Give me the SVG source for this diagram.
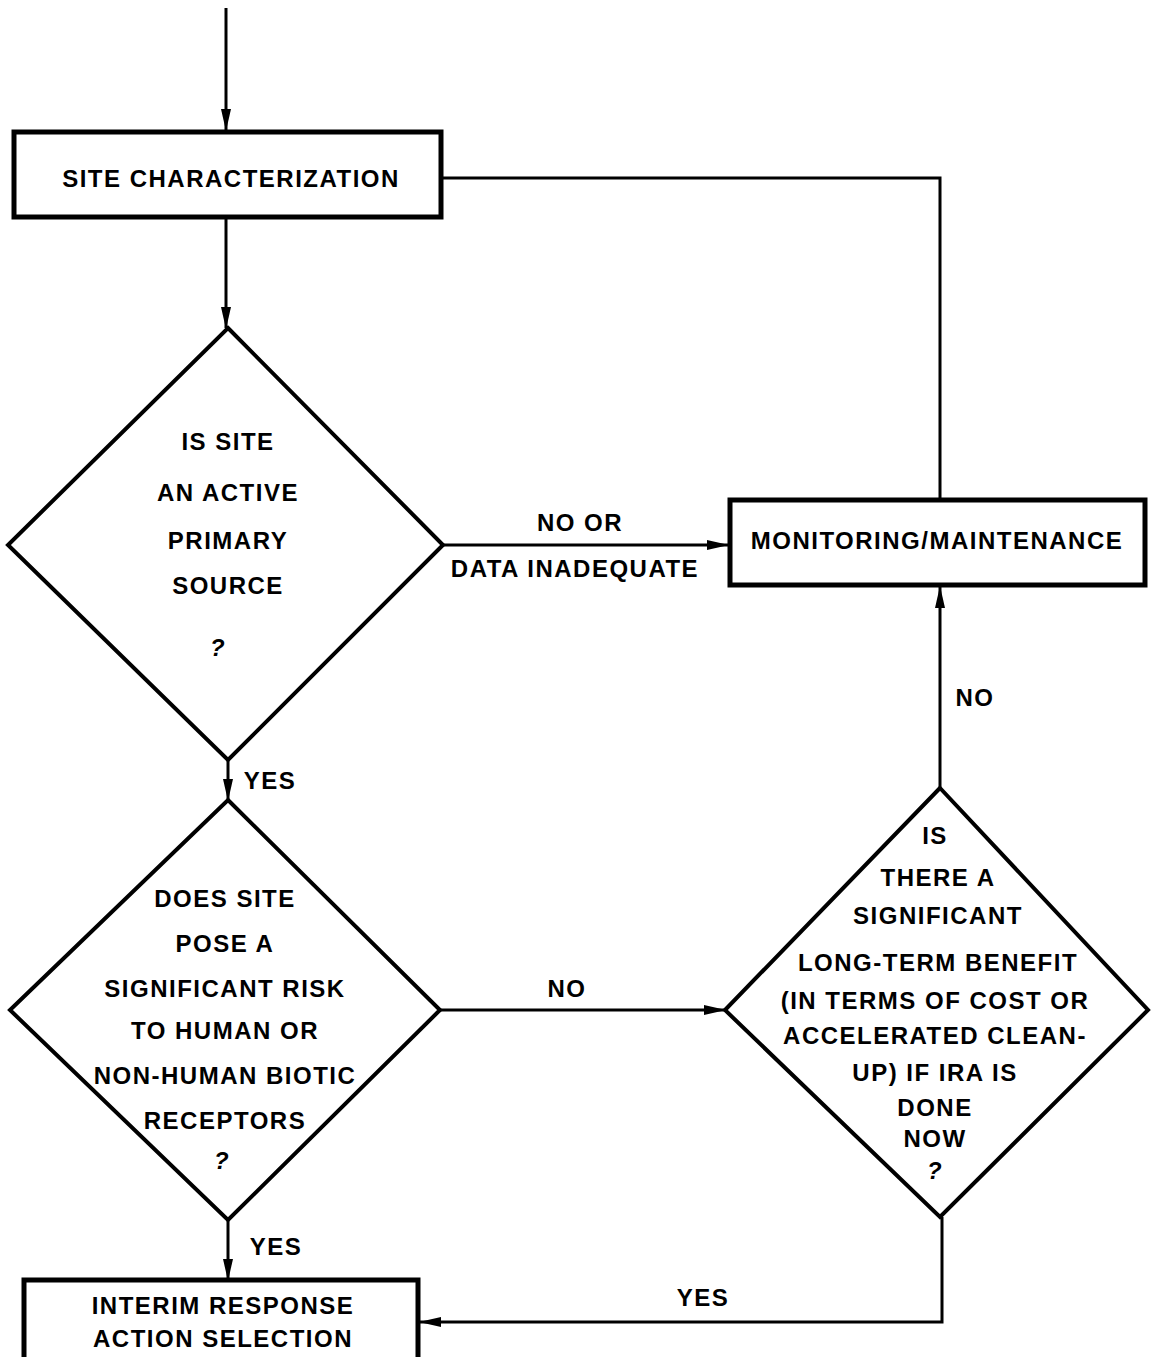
<svg xmlns="http://www.w3.org/2000/svg" width="1151" height="1357" viewBox="0 0 1151 1357">
<style>
.shape{fill:#fff;stroke:#000;stroke-width:4;stroke-linejoin:miter}
.box{fill:#fff;stroke:#000;stroke-width:5}
.conn{fill:none;stroke:#000;stroke-width:3}
text{font-family:"Liberation Sans",Arial,sans-serif;font-weight:bold;font-size:24px;fill:#000;text-anchor:middle;letter-spacing:1.5px}
</style>
<defs>
<marker id="ah" viewBox="0 0 22 12" refX="21" refY="6" markerWidth="22" markerHeight="12" markerUnits="userSpaceOnUse" orient="auto">
<path d="M0,1 L22,6 L0,11 Z" fill="#000"/>
</marker>
</defs>
<g id="connectors">
<path class="conn" d="M226,8 L226,130" marker-end="url(#ah)"/>
<path class="conn" d="M226,217 L226,328" marker-end="url(#ah)"/>
<path class="conn" d="M441,178 L940,178 L940,500"/>
<path class="conn" d="M443,545 L728,545" marker-end="url(#ah)"/>
<path class="conn" d="M228,760 L228,800" marker-end="url(#ah)"/>
<path class="conn" d="M440,1010 L725,1010" marker-end="url(#ah)"/>
<path class="conn" d="M940,788 L940,587" marker-end="url(#ah)"/>
<path class="conn" d="M228,1220 L228,1280" marker-end="url(#ah)"/>
<path class="conn" d="M942,1217 L942,1322 L420,1322" marker-end="url(#ah)"/>
<text x="580" y="531">NO OR</text>
<text x="575" y="577">DATA INADEQUATE</text>
<text x="270" y="789">YES</text>
<text x="567" y="997">NO</text>
<text x="975" y="706">NO</text>
<text x="276" y="1255">YES</text>
<text x="703" y="1306">YES</text>
</g>
<g id="site-characterization">
<rect class="box" x="14" y="132" width="427" height="85"/>
<text x="231" y="187">SITE CHARACTERIZATION</text>
</g>
<g id="active-source">
<polygon class="shape" points="228,328 443,545 228,760 8,545"/>
<text x="228" y="450">IS SITE</text>
<text x="228" y="501">AN ACTIVE</text>
<text x="228" y="549">PRIMARY</text>
<text x="228" y="594">SOURCE</text>
<text x="218" y="656" font-style="italic">?</text>
</g>
<g id="monitoring">
<rect class="box" x="730" y="500" width="415" height="85"/>
<text x="937" y="549">MONITORING/MAINTENANCE</text>
</g>
<g id="significant-risk">
<polygon class="shape" points="228,800 440,1010 228,1220 10,1010"/>
<text x="225" y="907">DOES SITE</text>
<text x="225" y="952">POSE A</text>
<text x="225" y="997">SIGNIFICANT RISK</text>
<text x="225" y="1039">TO HUMAN OR</text>
<text x="225" y="1084">NON-HUMAN BIOTIC</text>
<text x="225" y="1129">RECEPTORS</text>
<text x="222" y="1169" font-style="italic">?</text>
</g>
<g id="long-term-benefit">
<polygon class="shape" points="940,788 1148,1010 940,1217 725,1010"/>
<text x="935" y="844">IS</text>
<text x="938" y="886">THERE A</text>
<text x="938" y="924">SIGNIFICANT</text>
<text x="938" y="971">LONG-TERM BENEFIT</text>
<text x="935" y="1009">(IN TERMS OF COST OR</text>
<text x="935" y="1044">ACCELERATED CLEAN-</text>
<text x="935" y="1081">UP) IF IRA IS</text>
<text x="935" y="1116">DONE</text>
<text x="935" y="1147">NOW</text>
<text x="935" y="1179" font-style="italic">?</text>
</g>
<g id="interim-response">
<rect class="box" x="24" y="1280" width="394" height="90"/>
<text x="223" y="1314">INTERIM RESPONSE</text>
<text x="223" y="1347">ACTION SELECTION</text>
</g>
</svg>
